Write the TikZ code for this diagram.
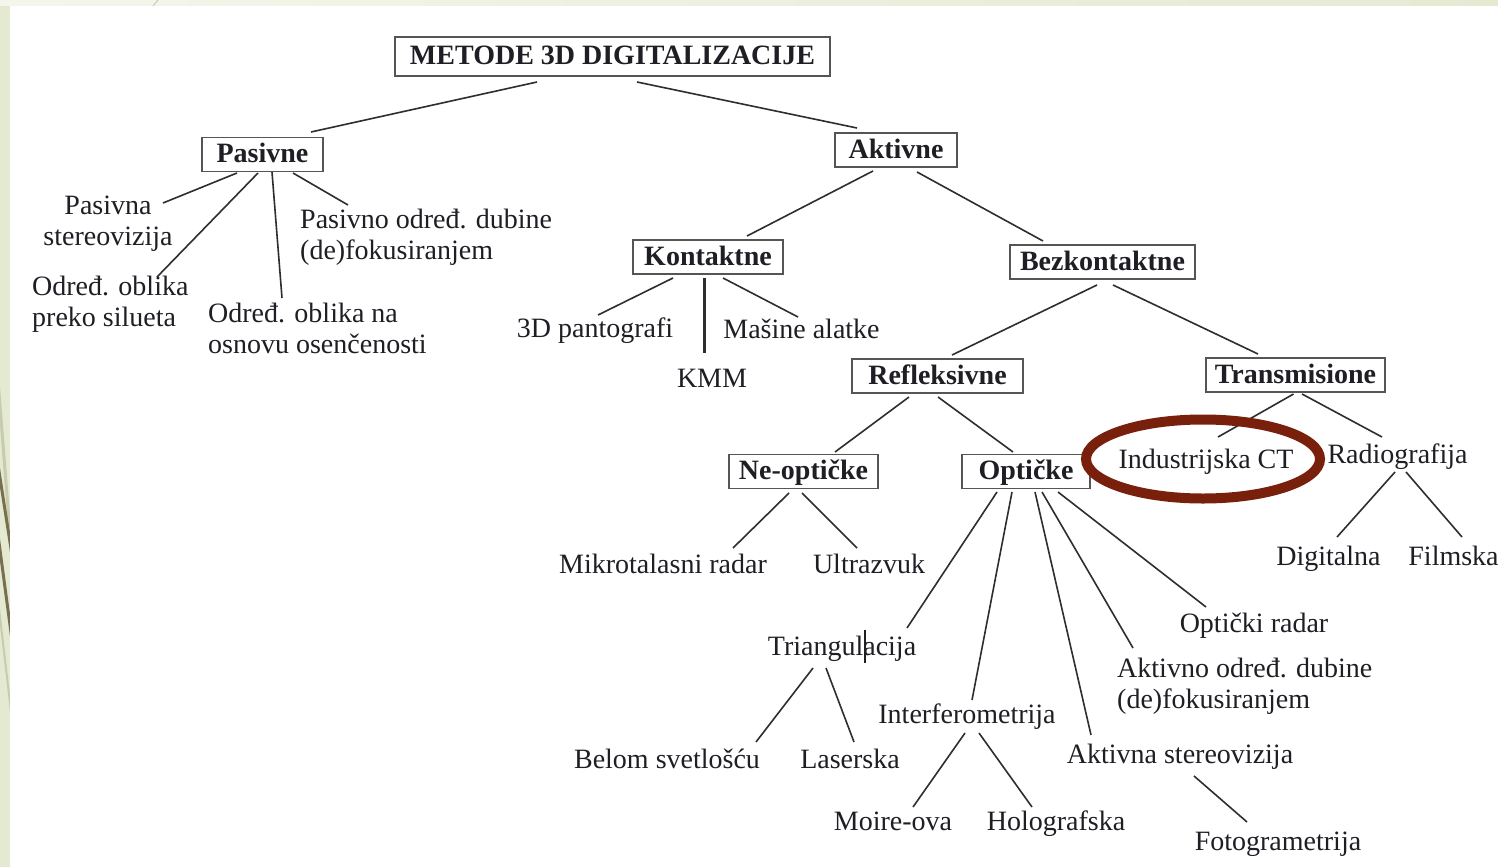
\documentclass[tikz,border=0pt]{standalone}
\usepackage{fontspec}
\setmainfont{Liberation Serif}
\definecolor{bgg}{HTML}{E4EAD2}
\definecolor{bgl}{HTML}{F4F6EC}
\definecolor{olive}{HTML}{7A6E50}
\definecolor{olivel}{HTML}{C8CCAE}
\definecolor{txt}{HTML}{1E1E24}
\definecolor{boxc}{HTML}{555555}
\definecolor{linec}{HTML}{2E2E2E}
\definecolor{redb}{RGB}{120,32,12}
\begin{document}
\begin{tikzpicture}[x=1pt,y=-1pt,
  box/.style={draw=boxc, line width=1.4pt, fill=white, text=txt,
    font=\bfseries\fontsize{28}{31}\selectfont,
    text height=21pt, text depth=5pt, inner ysep=4pt, inner xsep=4pt, minimum height=34pt},
  lbl/.style={font=\fontsize{28}{31}\selectfont, text=txt, inner sep=0pt, anchor=base},
  lbll/.style={lbl, anchor=base west, align=left},
  conn/.style={draw=linec, line width=1.6pt},
]
\useasboundingbox (0,0) rectangle (1498,867);
% background
\fill[bgg] (0,0) rectangle (1498,867);
\shade[left color=bgl, right color=bgg] (0,0) rectangle (1498,6);
\begin{scope}
  \clip (0,0) rectangle (10,867);
  \draw[olivel, line width=3pt] (-2,380) -- (12,560);
  \draw[olive, line width=3pt] (-2,465) -- (12,555);
  \draw[olive, line width=3pt] (-2,535) -- (12,640);
  \draw[olivel, line width=2pt] (-2,600) -- (12,720);
\end{scope}
\draw[olivel, line width=1pt] (153,6) -- (158,0);
\fill[white] (10,6) rectangle (1498,867);

% boxed nodes
\node[box, minimum width=435pt, minimum height=39pt] (m) at (612.5,56.5) {METODE 3D DIGITALIZACIJE};
\node[box, minimum width=121pt] (pas) at (262.5,154.5) {Pasivne};
\node[box, minimum width=122pt] (akt) at (896,150) {Aktivne};
\node[box, minimum width=150pt] (kon) at (708,257) {Kontaktne};
\node[box, minimum width=185pt] (bez) at (1102.5,262) {Bezkontaktne};
\node[box, minimum width=171pt] (ref) at (937.5,376) {Refleksivne};
\node[box, minimum width=179pt] (tra) at (1295.5,375) {Transmisione};
\node[box, minimum width=149pt, minimum height=33pt] (neo) at (803.5,471.5) {Ne-optičke};
\node[box, minimum width=128pt, minimum height=33pt] (opt) at (1026,471.5) {Optičke};

% text nodes (multi-line: base = baseline of last line)
\node[lbl, align=center] (ps) at (108,245) {Pasivna\\stereovizija};
\node[lbll] (po) at (32,326) {Određ. oblika\\preko silueta};
\node[lbll] (pn) at (208,353) {Određ. oblika na\\osnovu osenčenosti};
\node[lbll] (pd) at (300,259) {Pasivno određ. dubine\\(de)fokusiranjem};
\node[lbl] (pan) at (595,337) {3D pantografi};
\node[lbl] (kmm) at (712,387) {KMM};
\node[lbl] (mas) at (801.5,338) {Mašine alatke};
\node[lbl] (ict) at (1206,468) {Industrijska CT};
\node[lbl] (rad) at (1397.5,463) {Radiografija};
\node[lbl] (dig) at (1328.5,565) {Digitalna};
\node[lbl] (fil) at (1453.5,565) {Filmska};
\node[lbl] (mik) at (663,573) {Mikrotalasni radar};
\node[lbl] (ult) at (869,573) {Ultrazvuk};
\node[lbl] (tri) at (842,655) {Triangulacija};
\node[lbl] (int) at (967,723) {Interferometrija};
\node[lbl] (bel) at (667,768) {Belom svetlošću};
\node[lbl] (las) at (850,768) {Laserska};
\node[lbl] (moi) at (893,830) {Moire-ova};
\node[lbl] (hol) at (1056,830) {Holografska};
\node[lbl] (orad) at (1254,632) {Optički radar};
\node[lbll] (aod) at (1117,708) {Aktivno određ. dubine\\(de)fokusiranjem};
\node[lbl] (ast) at (1180,763) {Aktivna stereovizija};
\node[lbl] (fot) at (1278,850) {Fotogrametrija};

% connectors
\draw[conn] ([shift={(-75.5,25.5)}]m.center) -- ([shift={(48.5,-22.5)}]pas.center);
\draw[conn] ([shift={(24.5,25.5)}]m.center) -- ([shift={(-39,-22)}]akt.center);
\draw[conn] ([shift={(-25.5,18.5)}]pas.center) -- ([shift={(55,-42)}]ps.base);
\draw[conn] ([shift={(-4.5,18.5)}]pas.center) -- ([shift={(125,-49)}]po.base west);
\draw[conn] ([shift={(9.5,17.5)}]pas.center) -- ([shift={(74,-55)}]pn.base west);
\draw[conn] ([shift={(30.5,18.5)}]pas.center) -- ([shift={(48,-54)}]pd.base west);
\draw[conn] ([shift={(-23,21)}]akt.center) -- ([shift={(39,-21)}]kon.center);
\draw[conn] ([shift={(21,22)}]akt.center) -- ([shift={(-59.5,-21)}]bez.center);
\draw[conn] ([shift={(-35,21)}]kon.center) -- ([shift={(3,-22)}]pan.base);
\draw[conn, line width=3pt] ([shift={(-4,21)}]kon.center) -- ([shift={(-8,-34)}]kmm.base);
\draw[conn] ([shift={(15,21)}]kon.center) -- ([shift={(-3.5,-21)}]mas.base);
\draw[conn] ([shift={(-5.5,23)}]bez.center) -- ([shift={(14.5,-21)}]ref.center);
\draw[conn] ([shift={(10.5,23)}]bez.center) -- ([shift={(-37.5,-21)}]tra.center);
\draw[conn] ([shift={(-28.5,21)}]ref.center) -- ([shift={(31.5,-19.5)}]neo.center);
\draw[conn] ([shift={(0.5,21)}]ref.center) -- ([shift={(-13,-19.5)}]opt.center);
\draw[conn] ([shift={(-2,19)}]tra.center) -- ([shift={(12,-31)}]ict.base);
\draw[conn] ([shift={(6.5,19)}]tra.center) -- ([shift={(-15.5,-26)}]rad.base);
\draw[conn] ([shift={(-14.5,21.5)}]neo.center) -- ([shift={(70,-25)}]mik.base);
\draw[conn] ([shift={(-1.5,21.5)}]neo.center) -- ([shift={(-12,-25)}]ult.base);
\draw[conn] ([shift={(-2.5,9)}]rad.base) -- ([shift={(8.5,-28)}]dig.base);
\draw[conn] ([shift={(8.5,9)}]rad.base) -- ([shift={(8.5,-28)}]fil.base);
\draw[conn] ([shift={(-29,20.5)}]opt.center) -- ([shift={(65,-27)}]tri.base);
\draw[conn] ([shift={(-14,20.5)}]opt.center) -- ([shift={(5,-23)}]int.base);
\draw[conn] ([shift={(9,20.5)}]opt.center) -- ([shift={(-89,-28)}]ast.base);
\draw[conn] ([shift={(16,20.5)}]opt.center) -- ([shift={(16,-60)}]aod.base west);
\draw[conn] ([shift={(32,20.5)}]opt.center) -- ([shift={(-48,-25)}]orad.base);
\draw[conn] ([shift={(-29,13)}]tri.base) -- ([shift={(89,-26)}]bel.base);
\draw[conn] ([shift={(-16,13)}]tri.base) -- ([shift={(4,-26)}]las.base);
\draw[conn] ([shift={(-2,10)}]int.base) -- ([shift={(20,-23)}]moi.base);
\draw[conn] ([shift={(12,10)}]int.base) -- ([shift={(-24,-23)}]hol.base);
\draw[conn] ([shift={(14,13)}]ast.base) -- ([shift={(-31,-28)}]fot.base);
% text cursor mark
\draw[txt, line width=1.5pt] ([shift={(23,-25)}]tri.base) -- ([shift={(23,8)}]tri.base);

% highlight ellipse
\draw[redb, line width=10pt] (ict.base) ++(-3,-9) ellipse [x radius=117, y radius=39.5];
\end{tikzpicture}
\end{document}
